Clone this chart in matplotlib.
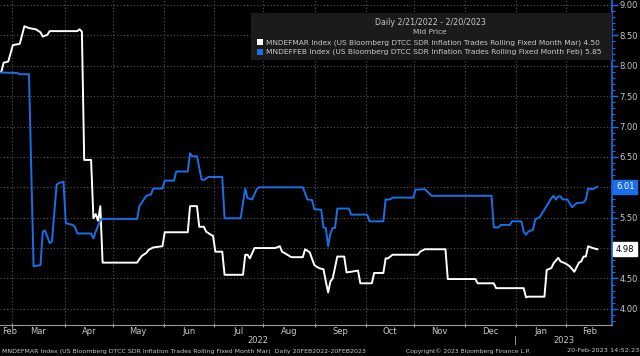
import numpy as np
import matplotlib
matplotlib.use("Agg")
import matplotlib.pyplot as plt
import matplotlib.transforms as mtransforms
from matplotlib.patches import Rectangle

START = "2022-02-21"

# trading-day number (weekdays since 2022-02-21) and value
mar_day = [0, 1, 2, 4, 6, 9, 11, 13, 16, 18, 19, 21, 22, 34, 35, 36, 37, 40, 41, 42, 43, 44, 45,
           60, 61, 62, 64, 65, 67, 71, 72, 82, 83, 86, 87, 89, 90, 92, 93, 94, 97, 98, 106, 107,
           108, 109, 111, 120, 122, 123, 124, 127, 132, 133, 135, 137, 139, 141, 142, 143, 144,
           145, 147, 150, 151, 153, 156, 157, 162, 163, 167, 168, 169, 171, 182, 183, 185, 194,
           195, 207, 208, 215, 216, 228, 229, 230, 237, 238, 240, 241, 243, 244, 246, 248, 250,
           252, 253, 254, 255, 256, 258, 260]
mar_val = [7.90, 7.90, 8.05, 8.07, 8.34, 8.36, 8.65, 8.62, 8.60, 8.55, 8.48, 8.51, 8.57, 8.57,
           8.60, 8.56, 6.45, 6.45, 5.49, 5.56, 5.45, 5.69, 4.76,
           4.76, 4.82, 4.87, 4.92, 4.97, 5.01, 5.03, 5.26, 5.26, 5.69, 5.69, 5.35, 5.35, 5.27,
           5.22, 5.20, 4.94, 4.94, 4.56, 4.56, 4.89,
           4.89, 4.83, 5.00, 5.00, 5.03, 4.94, 4.92, 4.85, 4.85, 4.98, 4.93, 4.72, 4.67, 4.65,
           4.45, 4.27, 4.45,
           4.50, 4.86, 4.86, 4.60, 4.61, 4.63, 4.42, 4.42, 4.59, 4.59, 4.83, 4.83, 4.89, 4.89,
           4.94, 4.98, 4.98,
           4.49, 4.49, 4.42, 4.42, 4.34, 4.34, 4.19, 4.20, 4.20, 4.64, 4.67, 4.75, 4.84, 4.78,
           4.75, 4.70, 4.61,
           4.76, 4.78, 4.86, 4.86, 5.03, 5.00, 4.98]

feb_day = [0, 8, 9, 13, 15, 18, 19, 20, 22, 23, 25, 26, 28, 29, 32, 33, 34, 40, 41, 42, 44, 45,
           60, 61, 64, 66, 67, 71, 72, 76, 77, 82, 83, 84, 86, 88, 89, 91, 97, 98, 105, 107, 108,
           110, 112, 113, 132, 134, 136, 137, 140, 141, 142, 143, 144, 145, 146, 147, 152, 153,
           160, 161, 167, 168, 170, 171, 180, 181, 185, 188, 214, 215, 217, 218, 222, 223, 227,
           228, 229, 230, 232, 233, 235, 240, 241, 242, 243, 244, 245, 247, 249, 251, 254, 255,
           256, 258, 260]
feb_val = [7.89, 7.88, 7.86, 7.86, 4.70, 4.72, 5.27, 5.29, 5.08, 5.11, 6.04, 6.07, 6.09, 5.41,
           5.38, 5.35, 5.24, 5.24, 5.16, 5.27, 5.46, 5.48,
           5.48, 5.69, 5.86, 5.88, 5.98, 5.98, 6.11, 6.11, 6.26, 6.26, 6.56, 6.51, 6.51, 6.13,
           6.12, 6.17, 6.17, 5.49, 5.49, 5.98, 5.82,
           5.80, 5.97, 6.00, 6.00, 5.80, 5.79, 5.64, 5.63, 5.34, 5.33, 5.03, 5.24, 5.33, 5.33,
           5.65, 5.65, 5.55,
           5.55, 5.44, 5.44, 5.80, 5.80, 5.83, 5.83, 5.96, 5.97, 5.86, 5.86, 5.34, 5.34, 5.38,
           5.38, 5.44, 5.44,
           5.27, 5.22, 5.27, 5.30, 5.47, 5.51, 5.82, 5.86, 5.80, 5.85, 5.85, 5.80, 5.80, 5.67,
           5.74, 5.75, 5.80,
           5.98, 5.97, 6.01]

month_starts = ["2022-02-01", "2022-03-01", "2022-04-01", "2022-05-01", "2022-06-01",
                "2022-07-01", "2022-08-01", "2022-09-01", "2022-10-01", "2022-11-01",
                "2022-12-01", "2023-01-01", "2023-02-01", "2023-03-01"]
month_names = ["Feb", "Mar", "Apr", "May", "Jun", "Jul", "Aug", "Sep", "Oct", "Nov", "Dec",
               "Jan", "Feb"]
yticks = [4.0, 4.5, 5.0, 5.5, 6.0, 6.5, 7.0, 7.5, 8.0, 8.5, 9.0]

last_mar = "4.98"
last_feb = "6.01"
legend_mar = "MNDEFMAR Index (US Bloomberg DTCC SDR Inflation Trades Rolling Fixed Month Mar) 4.50"
legend_feb = "MNDEFFEB Index (US Bloomberg DTCC SDR Inflation Trades Rolling Fixed Month Feb) 5.85"
footer_left = ("MNDEFMAR Index (US Bloomberg DTCC SDR Inflation Trades Rolling Fixed Month Mar)"
               "  Daily 20FEB2022-20FEB2023")
footer_mid = "Copyright\u00a9 2023 Bloomberg Finance L.P."
footer_right = "20-Feb-2023 14:52:23"

BLUE = "#1a6fe8"
TXT = "#c8c8c8"
GRID = "#555555"
FONT = "DejaVu Sans"

bounds = np.busday_count(START, month_starts) - 0.5

fig = plt.figure(figsize=(6.4, 3.56), dpi=100, facecolor="black")
ax = fig.add_axes([0, 31.5 / 356, 612.3 / 640, 324.5 / 356], facecolor="black")
renderer = fig.canvas.get_renderer()


def fit(t, width_px):
    # shrink a text until it is as wide as it is in the reference
    w = t.get_window_extent(renderer).width
    t.set_fontsize(t.get_fontsize() * width_px / w)


ax.plot(mar_day, mar_val, color="white", lw=1.4, zorder=3)
ax.plot(feb_day, feb_val, color=BLUE, lw=1.4, zorder=3)

ax.set_xlim(0.41, bounds[-1])
ax.set_ylim(3.742, 9.082)

for b in bounds[1:-1]:
    ax.axvline(b, color=GRID, lw=0.8, ls=(0, (1, 2)), zorder=1)
for y in yticks:
    ax.axhline(y, color=GRID, lw=0.8, ls=(0, (1, 2)), zorder=1)

# right axis; the labels under the last-value tags are hidden, as in the reference
ax.yaxis.tick_right()
ax.set_yticks(yticks)
ax.set_yticklabels(["" if v in (5.0, 6.0) else f"{v:.2f}" for v in yticks],
                   family=FONT, fontsize=6, color=TXT)
ax.set_yticks(np.arange(3.8, 9.05, 0.1), minor=True)
ax.tick_params(axis="y", which="major", colors=BLUE, length=4, width=1, pad=1, labelcolor=TXT)
ax.tick_params(axis="y", which="minor", colors=BLUE, length=2, width=0.8)

# bottom axis: month boundaries as ticks, labels centred in each month
ax.set_xticks(bounds[1:-1])
ax.set_xticklabels([])
ax.tick_params(axis="x", colors="#9a9a9a", length=3, width=0.8, direction="inout")
for sp in ["left", "top"]:
    ax.spines[sp].set_visible(False)
ax.spines["right"].set_color(BLUE)
ax.spines["right"].set_linewidth(1.2)
ax.spines["bottom"].set_color("#9a9a9a")

tr = mtransforms.blended_transform_factory(ax.transData, fig.transFigure)
for i, name in enumerate(month_names):
    c = max((bounds[i] + bounds[i + 1]) / 2, 4.5)
    ax.text(c, 1 - 331 / 356, name, transform=tr, ha="center", va="center",
            family=FONT, fontsize=6, color=TXT)
for x, s in [((0.41 + bounds[11]) / 2, "2022"), ((bounds[11] + bounds[-1]) / 2, "2023"),
             (bounds[11], "|")]:
    ax.text(x, 1 - 340.5 / 356, s, transform=tr, ha="center", va="center",
            family=FONT, fontsize=6, color=TXT)

# last value tags
ty = mtransforms.blended_transform_factory(ax.transAxes, ax.transData)
ax.text(1.006, float(last_feb), last_feb, transform=ty, ha="left", va="center", family=FONT,
        fontsize=6, color="white", clip_on=False,
        bbox=dict(boxstyle="square,pad=0.3", fc=BLUE, ec=BLUE))
ax.text(1.006, float(last_mar), last_mar, transform=ty, ha="left", va="center", family=FONT,
        fontsize=6, color="black", clip_on=False,
        bbox=dict(boxstyle="square,pad=0.3", fc="white", ec="white"))

# legend panel
fx = lambda px: px / 640
fy = lambda py: 1 - py / 356
fig.patches.append(Rectangle((fx(251), fy(60)), fx(612) - fx(251), fy(13) - fy(60),
                             transform=fig.transFigure, fc="#1b1b1b", ec="none", zorder=4))
t = fig.text(fx(430), fy(22.5), "Daily 2/21/2022 - 2/20/2023", ha="center", va="center",
             family=FONT, fontsize=6, color=TXT, zorder=5)
fit(t, 111)
t = fig.text(fx(430), fy(32.5), "Mid Price", ha="center", va="center",
             family=FONT, fontsize=6, color=TXT, zorder=5)
fit(t, 34)
for row, (lab, col) in enumerate([(legend_mar, "white"), (legend_feb, BLUE)]):
    yy = 42.3 + row * 9.6
    fig.patches.append(Rectangle((fx(257), fy(yy + 3)), fx(6), 6 / 356,
                                 transform=fig.transFigure, fc=col, ec="none", zorder=5))
    t = fig.text(fx(266), fy(yy), lab, ha="left", va="center", family=FONT, fontsize=6,
                 color=TXT, zorder=5)
    fit(t, 339)

# footer
t = fig.text(fx(2), fy(351), footer_left, ha="left", va="center", family=FONT, fontsize=5,
             color=TXT)
fit(t, 366)
t = fig.text(fx(406), fy(351), footer_mid, ha="left", va="center", family=FONT, fontsize=5,
             color=TXT)
fit(t, 125)
t = fig.text(fx(639), fy(351), footer_right, ha="right", va="center", family=FONT, fontsize=5,
             color=TXT)
fit(t, 72)

fig.savefig("out.png", dpi=100, facecolor="black")
